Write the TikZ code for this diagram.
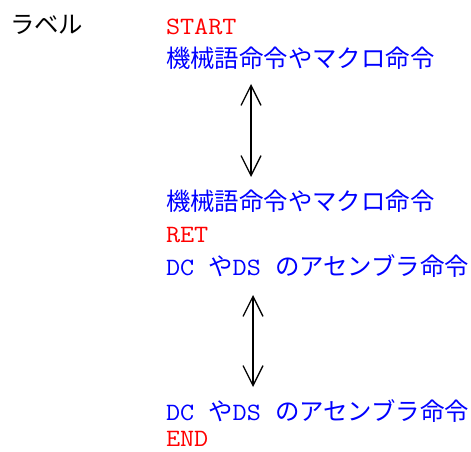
\documentclass[tikz,border=0pt]{standalone}
\usepackage{fontspec}
\setmainfont{Noto Sans CJK JP}
\newfontfamily\monofam[FakeStretch=1.1]{Latin Modern Mono}
\newcommand\mtt{\monofam\fontsize{25}{25}\selectfont}
\usetikzlibrary{arrows.meta}
\begin{document}
\begin{tikzpicture}[x=1bp,y=-1bp,
  txt/.style={anchor=base west,inner sep=0pt,outer sep=0pt,font=\fontsize{24.5}{24.5}\selectfont},
  cmd/.style={txt,text=blue},
  kw/.style={txt,text=red},
  dbl/.style={{Straight Barb[length=20bp,width=20bp]}-{Straight Barb[length=20bp,width=20bp]},line width=1.3bp}]
\useasboundingbox (0,0) rectangle (471,452);
\node[txt] (label) at (10,34) {ラベル};
% block 1
\node[kw]  (start) at (166,35) {\mtt START};
\node[cmd] (mac1)  at (166,68) {機械語命令やマクロ命令};
% block 2
\node[cmd] (mac2)  at (166,211) {機械語命令やマクロ命令};
\node[kw]  (ret)   at (166,242) {\mtt RET};
\node[cmd] (dc1)   at (166,275) {{\mtt DC }や{\mtt DS }のアセンブラ命令};
% block 3
\node[cmd] (dc2)   at (166,420) {{\mtt DC }や{\mtt DS }のアセンブラ命令};
\node[kw]  (end)   at (166,446) {\mtt END};
% arrows
\coordinate (a1t) at (251,84);
\coordinate (a1b) at (251,177);
\coordinate (a2t) at (253,295);
\coordinate (a2b) at (253,387);
\draw[dbl] (a1t) -- (a1b);
\draw[dbl] (a2t) -- (a2b);
\end{tikzpicture}
\end{document}
